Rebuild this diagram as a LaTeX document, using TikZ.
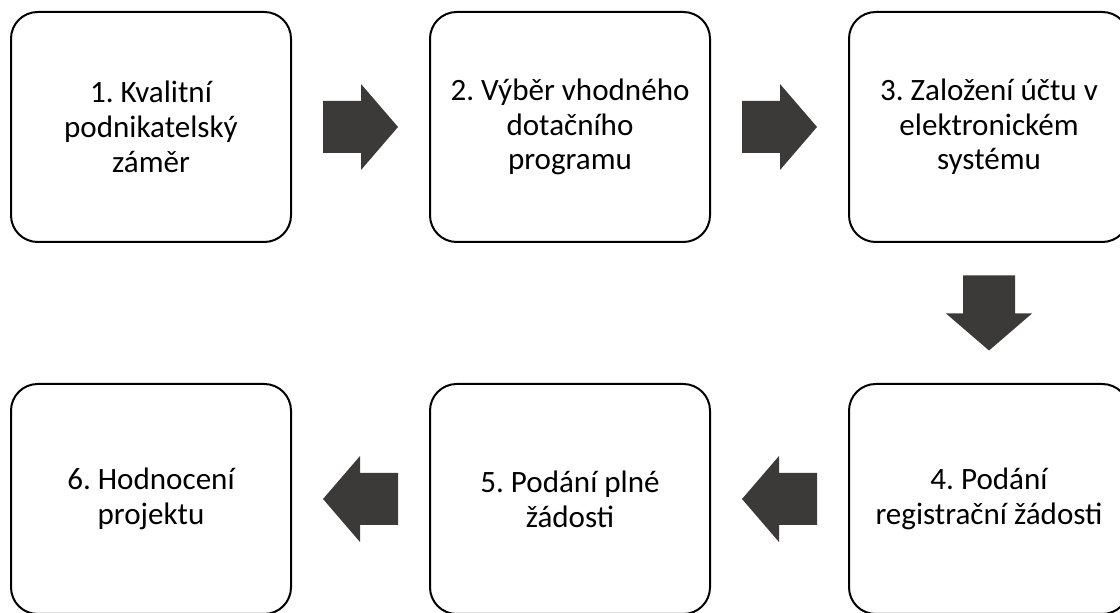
\documentclass[tikz,border=0pt]{standalone}
\usepackage{fontspec}
\setmainfont{Carlito}
\usepackage{xcolor}
\usepackage{tikz}
\usetikzlibrary{positioning,calc}

\definecolor{arrowgray}{RGB}{59,58,57}

\tikzset{
    stepbox/.style={draw=black, line width=1.5pt, rounded corners=20pt,
        minimum width=210pt, minimum height=172.5pt, inner sep=0pt,
        align=center, font=\fontsize{23.3}{26}\selectfont},
    pics/blockarrow/.style={code={
        \fill[arrowgray] (-37.5,-26) -- (0.5,-26) -- (0.5,-43) -- (37.5,0)
            -- (0.5,43) -- (0.5,26) -- (-37.5,26) -- cycle;
    }}
}

\begin{document}
\frenchspacing
\begin{tikzpicture}[x=0.75pt, y=0.75pt, node distance=105pt and 102.75pt]
    \useasboundingbox (0,0) rectangle (1120,613);
    \clip (0,0) rectangle (1120,613);

    % Top row
    \node[stepbox] (s1) at (151,486) {1. Kvalitní\\podnikatelský\\záměr};
    \node[stepbox, right=of s1] (s2) {2. Výběr vhodného\\dotačního\\programu};
    \node[stepbox, right=of s2] (s3) {3. Založení účtu v\\elektronickém\\systému};

    % Bottom row
    \node[stepbox, below=of s3] (s4) {4. Podání\\registrační žádosti};
    \node[stepbox, left=of s4] (s5) {5. Podání plné\\žádosti};
    \node[stepbox, left=of s5] (s6) {6. Hodnocení\\projektu};

    % Block arrows
    \pic at ($(s1.east)!0.5!(s2.west)$) {blockarrow};
    \pic at ($(s2.east)!0.5!(s3.west)$) {blockarrow};
    \pic[rotate=-90] at ($(s3.south)!0.5!(s4.north)$) {blockarrow};
    \pic[rotate=180] at ($(s4.west)!0.5!(s5.east)$) {blockarrow};
    \pic[rotate=180] at ($(s5.west)!0.5!(s6.east)$) {blockarrow};
\end{tikzpicture}
\end{document}
